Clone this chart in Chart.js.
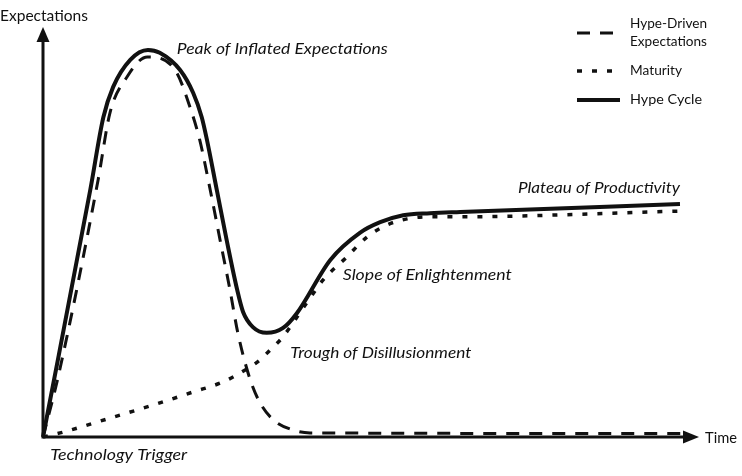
<!DOCTYPE html>
<html><head><meta charset="utf-8">
<script src="https://cdn.jsdelivr.net/npm/chart.js@4/dist/chart.umd.min.js"></script>
<style>html,body{margin:0;padding:0;background:#fff}#wrap{width:742px;height:476px}</style>
</head><body><div id="wrap"><canvas id="c" width="742" height="476"></canvas></div>
<script>
// ---- data (abstract units: time 0..100, expectations 0..100) ----
const seriesNames = ['Hype-Driven\nExpectations', 'Maturity', 'Hype Cycle'];

const hypeDrivenX = [0, 2.3, 8.4, 10.2, 12.8, 15.9, 17.8, 20.4, 22.4, 23.9, 25.5, 27.0, 28.5, 29.7, 31.6, 33.1, 35.1, 38.1, 40.7, 98.6];
const hypeDrivenY = [0, 14.6, 62.7, 79.0, 87.8, 92.7, 92.4, 88.8, 80.5, 72.4, 60.2, 48.0, 35.9, 25.4, 13.9, 8.3, 4.2, 1.7, 1.0, 0.85];

const maturityX = [0, 3.1, 10.2, 16.8, 22.9, 27.4, 31.1, 33.1, 34.6, 36.4, 40.2, 42.7, 46.3, 49.4, 52.4, 55.5, 58.5, 62.5, 97.1];
const maturityY = [0, 1.2, 4.6, 7.8, 11.0, 13.4, 16.6, 18.8, 21.2, 24.1, 32.7, 38.3, 43.9, 48.8, 51.7, 53.2, 53.7, 53.7, 55.1];

const hypeCycleX = [0, 7.2, 9.2, 10.7, 13.3, 16.0, 17.8, 20.9, 22.9, 24.2, 25.0, 26.5, 28.0, 29.6, 30.5, 32.0, 34.1, 36.6, 38.7, 43.8, 48.3, 51.4, 54.9, 59.0, 63.6, 97.1];
const hypeCycleY = [0, 60.2, 78.0, 85.4, 92.0, 94.4, 93.7, 89.5, 83.9, 78.0, 72.4, 60.2, 48.0, 35.9, 30.5, 26.8, 25.4, 26.6, 30.2, 43.2, 49.8, 52.4, 54.1, 54.6, 54.9, 56.8];

const phaseLabels = ['Peak of Inflated Expectations', 'Slope of Enlightenment', 'Trough of Disillusionment', 'Plateau of Productivity', 'Technology Trigger'];
const axisTitles = ['Expectations', 'Time'];

// ---- layout (not data) ----
const FONT = 'Lato, "Open Sans", sans-serif';
const INK = '#111';
const phaseLabelPos = [
  {x: 20.4, y: 94.6, align: 'left',  w: 211},
  {x: 45.7, y: 39.5, align: 'left',  w: 169},
  {x: 37.7, y: 20.5, align: 'left',  w: 181},
  {x: 97.1, y: 60.7, align: 'right', w: 162},
  {x: 1.1,  y: -4.4, align: 'left',  w: 137}
];
const lineStyles = [
  {dash: [13, 10], width: 3},
  {dash: [5, 10], width: 3.5},
  {dash: [], width: 4}
];

function pts(xs, ys) { return xs.map((x, i) => ({x: x, y: ys[i]})); }

// draw text stretched horizontally to a target width (font is narrower than the original)
function fitText(ctx, text, x, y, align, targetW) {
  const w = ctx.measureText(text).width;
  const s = targetW ? targetW / w : 1;
  const left = align === 'right' ? x - w * s : x;
  ctx.save();
  ctx.textAlign = 'left';
  ctx.translate(left, y);
  ctx.scale(s, 1);
  ctx.fillText(text, 0, 0);
  ctx.restore();
}

const axesPlugin = {
  id: 'axesArrows',
  beforeDatasetsDraw(chart) {
    const ctx = chart.ctx, xs = chart.scales.x, ys = chart.scales.y;
    const x0 = xs.getPixelForValue(0), y0 = ys.getPixelForValue(0);
    const xEnd = xs.getPixelForValue(100), yEnd = ys.getPixelForValue(100);
    ctx.save();
    ctx.strokeStyle = INK; ctx.fillStyle = INK; ctx.lineWidth = 3; ctx.lineCap = 'butt';
    ctx.beginPath();
    ctx.moveTo(x0, y0 + 1.5); ctx.lineTo(x0, yEnd + 12);
    ctx.moveTo(x0 - 1.5, y0); ctx.lineTo(xEnd - 12, y0);
    ctx.stroke();
    ctx.beginPath();
    ctx.moveTo(x0, yEnd); ctx.lineTo(x0 - 6.5, yEnd + 15); ctx.lineTo(x0 + 6.5, yEnd + 15); ctx.closePath();
    ctx.fill();
    ctx.beginPath();
    ctx.moveTo(xEnd, y0); ctx.lineTo(xEnd - 16, y0 - 6.5); ctx.lineTo(xEnd - 16, y0 + 6.5); ctx.closePath();
    ctx.fill();
    ctx.restore();
  },
  afterDatasetsDraw(chart) {
    const ctx = chart.ctx, xs = chart.scales.x, ys = chart.scales.y;
    ctx.save();
    ctx.fillStyle = INK;
    ctx.textBaseline = 'middle';
    // axis titles
    ctx.font = '15px ' + FONT;
    fitText(ctx, axisTitles[0], 0, 16, 'left', 88);
    fitText(ctx, axisTitles[1], xs.getPixelForValue(100) + 6, ys.getPixelForValue(0) + 1, 'left', 32);
    // phase labels
    ctx.font = 'italic 15px ' + FONT;
    phaseLabels.forEach((t, i) => {
      const p = phaseLabelPos[i];
      fitText(ctx, t, xs.getPixelForValue(p.x), ys.getPixelForValue(p.y), p.align, p.w);
    });
    // legend
    const lx0 = 577, lx1 = 620, tx = 630;
    const rows = [{ly: 33, ty: [24, 42], w: [77, 77]}, {ly: 71, ty: [71], w: [52]}, {ly: 100, ty: [100], w: [72]}];
    ctx.font = '13px ' + FONT;
    rows.forEach((r, i) => {
      const s = lineStyles[i];
      ctx.beginPath();
      ctx.setLineDash(s.dash);
      ctx.lineWidth = s.width;
      ctx.strokeStyle = INK;
      ctx.moveTo(lx0, r.ly); ctx.lineTo(i === 1 ? lx1 - 5 : lx1, r.ly);
      ctx.stroke();
      ctx.setLineDash([]);
      const lines = seriesNames[i].split('\n');
      lines.forEach((ln, j) => fitText(ctx, ln, tx, r.ty[j], 'left', r.w[j]));
    });
    ctx.restore();
  }
};

const seriesData = [pts(hypeDrivenX, hypeDrivenY), pts(maturityX, maturityY), pts(hypeCycleX, hypeCycleY)];

new Chart(document.getElementById('c'), {
  type: 'line',
  data: {
    datasets: seriesData.map((d, i) => ({
      label: seriesNames[i].replace('\n', ' '),
      data: d,
      borderColor: INK,
      borderWidth: lineStyles[i].width,
      borderDash: lineStyles[i].dash,
      borderCapStyle: 'butt',
      pointRadius: 0,
      fill: false,
      cubicInterpolationMode: 'monotone',
      clip: false
    }))
  },
  options: {
    responsive: false,
    animation: false,
    devicePixelRatio: 1,
    layout: {padding: {left: 43, right: 43, top: 27, bottom: 39}},
    scales: {
      x: {type: 'linear', min: 0, max: 100, display: false},
      y: {type: 'linear', min: 0, max: 100, display: false}
    },
    plugins: {legend: {display: false}, tooltip: {enabled: false}}
  },
  plugins: [axesPlugin]
});
</script>
</body></html>
